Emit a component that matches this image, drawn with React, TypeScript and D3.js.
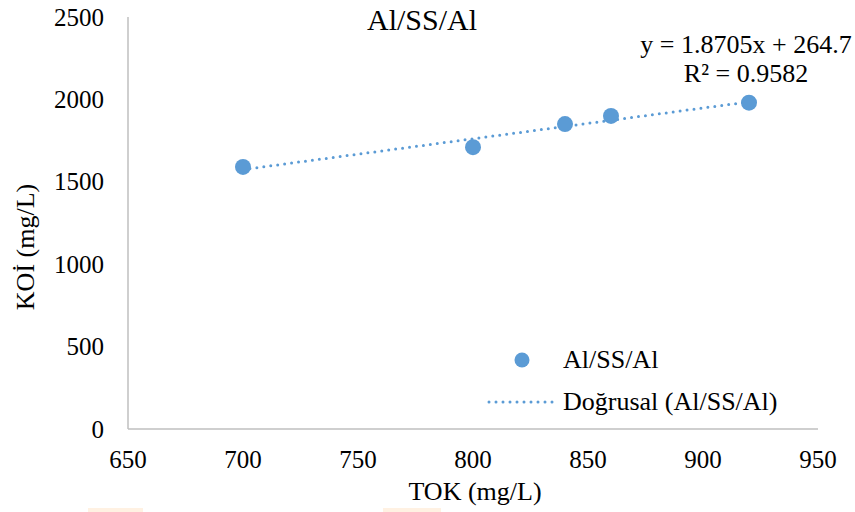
import React from "react";
import * as d3 from "d3";

const tokValues = [700, 800, 840, 860, 920];
const koiValues = [1590, 1710, 1850, 1900, 1980];
const xTicks = [650, 700, 750, 800, 850, 900, 950];
const yTicks = [0, 500, 1000, 1500, 2000, 2500];
const seriesName = "Al/SS/Al";
const trendName = "Doğrusal (Al/SS/Al)";
const equationText = "y = 1.8705x + 264.7";
const r2Text = "R² = 0.9582";

const W = 855;
const H = 512;
const COLOR = "#5b9bd5";
const FONT = "Liberation Serif, DejaVu Serif, serif";

export default function App() {
  const x = d3.scaleLinear().domain([650, 950]).range([128, 818]);
  const y = d3.scaleLinear().domain([0, 2500]).range([429, 17]);

  const n = tokValues.length;
  const mx = d3.mean(tokValues) as number;
  const my = d3.mean(koiValues) as number;
  let sxy = 0;
  let sxx = 0;
  for (let i = 0; i < n; i++) {
    sxy += (tokValues[i] - mx) * (koiValues[i] - my);
    sxx += (tokValues[i] - mx) ** 2;
  }
  const slope = sxy / sxx;
  const intercept = my - slope * mx;
  const xMin = d3.min(tokValues) as number;
  const xMax = d3.max(tokValues) as number;
  const trendPts: [number, number][] = [
    [xMin, slope * xMin + intercept],
    [xMax, slope * xMax + intercept],
  ];
  const line = d3
    .line<[number, number]>()
    .x((d) => x(d[0]))
    .y((d) => y(d[1]));

  const ts = { fontFamily: FONT };

  return (
    <svg
      width={W}
      height={H}
      style={{ position: "absolute", left: 0, top: 0, background: "#fff", fontFamily: FONT }}
    >
      <rect x={0} y={0} width={W} height={H} fill="#fff" />
      <rect x={88} y={508} width={55} height={4} fill="#fff1e2" />
      <rect x={383} y={508} width={58} height={4} fill="#fff1e2" />

      <line x1={x(650)} x2={x(650)} y1={y(2500)} y2={y(0)} stroke="#bfbfbf" strokeWidth={1.5} />
      <line x1={x(650)} x2={x(950)} y1={y(0)} y2={y(0)} stroke="#bfbfbf" strokeWidth={1.5} />

      {yTicks.map((t) => (
        <text key={"y" + t} style={ts} x={104} y={y(t)} dy="0.34em" textAnchor="end" fontSize={25} fill="#000">
          {t}
        </text>
      ))}
      {xTicks.map((t) => (
        <text key={"x" + t} style={ts} x={x(t)} y={468} textAnchor="middle" fontSize={25} fill="#000">
          {t}
        </text>
      ))}

      <text style={ts} x={422} y={30} textAnchor="middle" fontSize={30} fill="#000">
        {seriesName}
      </text>

      <text style={ts} x={475} y={500} textAnchor="middle" fontSize={26} fill="#000">
        TOK (mg/L)
      </text>
      <text
        style={ts}
        transform={`translate(34, 247) rotate(-90)`}
        textAnchor="middle"
        fontSize={26}
        fill="#000"
      >
        KOİ (mg/L)
      </text>

      <path
        d={line(trendPts) || ""}
        fill="none"
        stroke={COLOR}
        strokeWidth={3}
        strokeDasharray="0 7"
        strokeLinecap="round"
      />

      {tokValues.map((v, i) => (
        <circle key={i} cx={x(v)} cy={y(koiValues[i])} r={8} fill={COLOR} />
      ))}

      <text style={ts} x={746} y={53} textAnchor="middle" fontSize={26} fill="#000">
        {equationText}
      </text>
      <text style={ts} x={746} y={82} textAnchor="middle" fontSize={26} fill="#000">
        {r2Text}
      </text>

      <circle cx={522} cy={360} r={7.5} fill={COLOR} />
      <text style={ts} x={563} y={368} fontSize={26} fill="#000">
        {seriesName}
      </text>
      <line
        x1={489}
        x2={556}
        y1={402}
        y2={402}
        stroke={COLOR}
        strokeWidth={3}
        strokeDasharray="0 7"
        strokeLinecap="round"
      />
      <text style={ts} x={563} y={410} fontSize={26} fill="#000">
        {trendName}
      </text>
    </svg>
  );
}
